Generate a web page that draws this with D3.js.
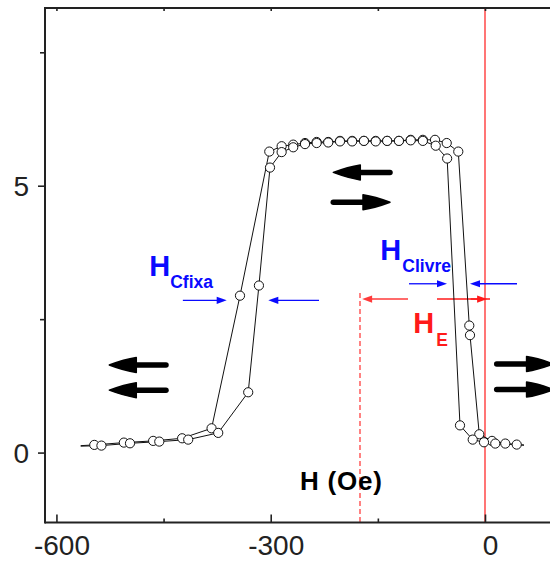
<!DOCTYPE html>
<html><head><meta charset="utf-8">
<script src="https://cdn.jsdelivr.net/npm/d3@7"></script>
<style>body{margin:0;background:#fff} text{font-family:"Liberation Sans",Arial,Helvetica,sans-serif}</style>
</head><body><svg id="c" width="550" height="565"></svg>
<script>
// ---- data (H in Oe, signal in arbitrary units) ----
const outerH = [-566, -547, -505.6, -464.6, -424, -382.8, -343, -302, -284.7, -268.5, -252, -235.7, -219.5, -203, -186, -169.5, -153, -137, -120.5, -104, -87, -70, -53.6, -37.4, -22, -21, -8, 9.8, 28.4, 54.6];
const outerM = [0.13, 0.144, 0.187, 0.219, 0.268, 0.455, 2.94, 5.64, 5.74, 5.77, 5.80, 5.82, 5.82, 5.84, 5.84, 5.84, 5.84, 5.84, 5.84, 5.86, 5.86, 5.86, 5.80, 5.64, 2.38, 2.20, 0.343, 0.219, 0.169, 0.14];
const innerH = [-566, -537, -497, -456, -415.5, -373.5, -331.5, -316.5, -301, -284.7, -268.5, -252, -235.7, -219.5, -203, -186, -169.5, -153, -137, -120.5, -104, -87, -69, -53, -35, -17.2, -1.4, 14.4, 44.4, 54.6];
const innerM = [0.12, 0.131, 0.174, 0.206, 0.243, 0.369, 1.13, 3.13, 5.34, 5.63, 5.72, 5.78, 5.80, 5.81, 5.83, 5.83, 5.84, 5.83, 5.84, 5.84, 5.85, 5.84, 5.75, 5.51, 0.51, 0.243, 0.193, 0.169, 0.150, 0.14];
const xMajorTicks = [-600, -300, 0];
const xTickLabels = ["-600", "-300", "0"];
const xMinorTicks = [-450, -150];
const yMajorTicks = [0, 5];
const yTickLabels = ["0", "5"];
const yMinorTicks = [2.5, 7.5];
const hExchange = -175;          // exchange bias (dashed line)

// ---- scales ----
const svg = d3.select("#c");
const x = d3.scaleLinear().domain([-616, 105]).range([45, 560]);
const y = d3.scaleLinear().domain([-1.31, 8.33]).range([522.5, 8]);

// ---- red reference lines ----
svg.append("line").attr("x1", x(0)).attr("x2", x(0)).attr("y1", y(8.33)).attr("y2", y(-1.31))
  .attr("stroke", "#ff1a1a").attr("stroke-width", 1.2);
svg.append("line").attr("x1", x(hExchange)).attr("x2", x(hExchange)).attr("y1", y(2.99)).attr("y2", y(-1.31))
  .attr("stroke", "#ff5a5a").attr("stroke-width", 1.5).attr("stroke-dasharray", "5,3");

// ---- frame & axes ----
const frame = "#222";
svg.append("line").attr("x1", x(-616)).attr("x2", 560).attr("y1", y(8.33)).attr("y2", y(8.33)).attr("stroke", frame).attr("stroke-width", 2);
svg.append("line").attr("x1", x(-616)).attr("x2", 560).attr("y1", y(-1.31)).attr("y2", y(-1.31)).attr("stroke", frame).attr("stroke-width", 2);
svg.append("line").attr("x1", x(-616)).attr("x2", x(-616)).attr("y1", y(8.33) - 1).attr("y2", y(-1.31) + 1).attr("stroke", frame).attr("stroke-width", 2);

const bx = d3.axisBottom(x).tickValues(xMajorTicks).tickSizeInner(-8).tickSizeOuter(0).tickPadding(20)
  .tickFormat((d, i) => xTickLabels[i]);
const gx = svg.append("g").attr("transform", `translate(0,${y(-1.31)})`).call(bx);
gx.select(".domain").remove();
gx.selectAll(".tick line").attr("stroke", frame).attr("stroke-width", 1.6);
gx.selectAll(".tick text").attr("font-size", 28).attr("fill", "#222").attr("dx", 5).attr("dy", "0.45em")
  .style("font-family", '"Liberation Sans",Arial,sans-serif');
const bxm = d3.axisBottom(x).tickValues(xMinorTicks).tickSizeInner(-4).tickSizeOuter(0).tickFormat("");
const gxm = svg.append("g").attr("transform", `translate(0,${y(-1.31)})`).call(bxm);
gxm.select(".domain").remove();
gxm.selectAll(".tick line").attr("stroke", frame).attr("stroke-width", 1.6);

const tx = d3.axisTop(x).tickValues(xMajorTicks.concat(xMinorTicks)).tickSizeInner(-3).tickSizeOuter(0).tickFormat("");
const gt = svg.append("g").attr("transform", `translate(0,${y(8.33)})`).call(tx);
gt.select(".domain").remove();
gt.selectAll(".tick line").attr("stroke", frame).attr("stroke-width", 1.6);

const ly = d3.axisLeft(y).tickValues(yMajorTicks).tickSizeInner(7).tickSizeOuter(0).tickPadding(9)
  .tickFormat((d, i) => yTickLabels[i]);
const gy = svg.append("g").attr("transform", `translate(${x(-616)},0)`).call(ly);
gy.select(".domain").remove();
gy.selectAll(".tick line").attr("stroke", frame).attr("stroke-width", 1.6);
gy.selectAll(".tick text").attr("font-size", 28).attr("fill", "#222").attr("dy", "0.36em")
  .style("font-family", '"Liberation Sans",Arial,sans-serif');
const lym = d3.axisLeft(y).tickValues(yMinorTicks).tickSizeInner(5).tickSizeOuter(0).tickFormat("");
const gym = svg.append("g").attr("transform", `translate(${x(-616)},0)`).call(lym);
gym.select(".domain").remove();
gym.selectAll(".tick line").attr("stroke", frame).attr("stroke-width", 1.6);

// ---- thin arrows (blue / red) ----
function thinArrow(x1, y1, x2, y2, color, w) {
  const dir = Math.sign(x2 - x1), L = 10, h = 3.6;
  svg.append("line").attr("x1", x1).attr("y1", y1).attr("x2", x2 - dir * L * 0.6).attr("y2", y2)
    .attr("stroke", color).attr("stroke-width", w);
  svg.append("path").attr("d", `M${x2},${y2} L${x2 - dir * L},${y2 - h} L${x2 - dir * L},${y2 + h} Z`).attr("fill", color);
}
const blue = "#0a0aff", red = "#ff1a1a";
// HCfixa arrows
thinArrow(x(-423), y(2.852), x(-361.6), y(2.852), blue, 1.3);
thinArrow(x(-232.4), y(2.852), x(-303.4), y(2.852), blue, 1.3);
// HClivre arrows
thinArrow(x(-106.4), y(3.163), x(-53.2), y(3.163), blue, 1.3);
thinArrow(x(44.8), y(3.163), x(-21), y(3.163), blue, 1.3);
// HE arrows
thinArrow(x(-107.8), y(2.877), x(-172), y(2.877), "#ff3a3a", 1.5);
svg.append("line").attr("x1", x(-67.2)).attr("x2", x(7)).attr("y1", y(2.877)).attr("y2", y(2.877)).attr("stroke", "#ff1a1a").attr("stroke-width", 1.5);
thinArrow(x(-20), y(2.877), x(3), y(2.877), red, 1.5);

// ---- data lines & markers ----
const line = d3.line().x(d => x(d[0])).y(d => y(d[1]));
const series = [d3.zip(outerH, outerM), d3.zip(innerH, innerM)];
series.forEach(s => {
  svg.append("path").attr("d", line(s)).attr("fill", "none").attr("stroke", "#111").attr("stroke-width", 1);
});
series.forEach(s => {
  svg.append("g").selectAll("circle").data(s.slice(1, -1)).join("circle")
    .attr("cx", d => x(d[0])).attr("cy", d => y(d[1])).attr("r", 4.6)
    .attr("fill", "#fff").attr("stroke", "#111").attr("stroke-width", 1);
});

// ---- thick black arrows ----
function bigArrow(tailH, tipH, m) {
  const x1 = x(tailH), x2 = x(tipH), yy = y(m), dir = Math.sign(x2 - x1);
  const L = 27, h = 7.5;
  svg.append("line").attr("x1", x1).attr("y1", yy).attr("x2", x2 - dir * (L - 2)).attr("y2", yy)
    .attr("stroke", "#000").attr("stroke-width", 5.5).attr("stroke-linecap", "round");
  svg.append("path")
    .attr("d", `M${x2},${yy} Q${x2 - dir * L * 0.55},${yy - h * 0.75} ${x2 - dir * L},${yy - h} L${x2 - dir * L},${yy + h} Q${x2 - dir * L * 0.55},${yy + h * 0.75} ${x2},${yy} Z`)
    .attr("fill", "#000").attr("stroke", "#000").attr("stroke-width", 1.5).attr("stroke-linejoin", "round");
}
bigArrow(-133, -212.4, 5.25);
bigArrow(-212.4, -133, 4.69);
bigArrow(-446.6, -526, 1.64);
bigArrow(-446.6, -526, 1.17);
bigArrow(16.4, 96, 1.66);
bigArrow(16.4, 96, 1.18);

// ---- labels ----
function subLabel(h, m, main, sub, color, subDx, subDy) {
  const t = svg.append("text").attr("x", x(h)).attr("y", y(m)).attr("fill", color).attr("font-weight", "bold");
  t.append("tspan").attr("font-size", 29).text(main);
  t.append("tspan").attr("font-size", 17.5).attr("dx", subDx).attr("dy", subDy).text(sub);
}
subLabel(-470, 3.307, "H", "Cfixa", blue, 0, 12);
subLabel(-146.5, 3.61, "H", "Clivre", blue, 1, 11.7);
subLabel(-100.5, 2.234, "H", "E", "#ff1a1a", 2, 12.7);

svg.append("text").attr("x", x(-259)).attr("y", y(-0.703)).attr("font-size", 26).attr("font-weight", "bold")
  .attr("fill", "#000").attr("letter-spacing", 0.8).text("H (Oe)");
</script></body></html>
